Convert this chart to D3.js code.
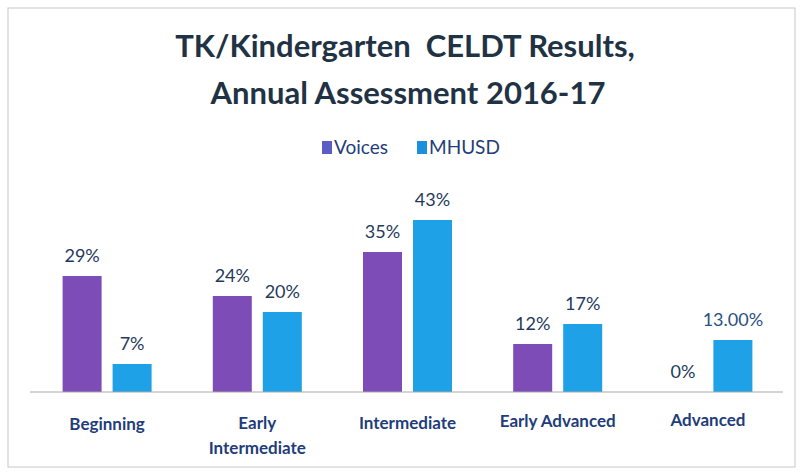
<!DOCTYPE html>
<html>
<head>
<meta charset="utf-8">
<script src="https://cdn.jsdelivr.net/npm/d3@7"></script>
<style>
  body { margin: 0; background: #fff; }
  svg { display: block; font-family: Lato, "Open Sans", sans-serif; }
</style>
</head>
<body>
<svg id="chart"></svg>
<script>
const categories = ["Beginning", "Early Intermediate", "Intermediate", "Early Advanced", "Advanced"];
const categoryLines = [["Beginning"], ["Early", "Intermediate"], ["Intermediate"], ["Early Advanced"], ["Advanced"]];
const series = ["Voices", "MHUSD"];
const voices = [29, 24, 35, 12, 0];
const mhusd = [7, 20, 43, 17, 13];
const voicesLabels = ["29%", "24%", "35%", "12%", "0%"];
const mhusdLabels = ["7%", "20%", "43%", "17%", "13.00%"];

const width = 801, height = 474;
const colors = { Voices: "#7d4cb6", MHUSD: "#1ea1e6" };
const textColor = "#1f3a5c";

const svg = d3.select("#chart").attr("width", width).attr("height", height);

// scanned page frame
svg.append("rect")
    .attr("x", 8).attr("y", 8).attr("width", 787).attr("height", 459)
    .attr("fill", "none").attr("stroke", "#c8c8c8").attr("stroke-width", 1);

// title
const title = svg.append("text")
    .attr("text-anchor", "middle")
    .style("font-size", "31px").style("font-weight", "bold")
    .attr("fill", "#1f3345");
title.append("tspan").attr("x", 405).attr("y", 57).text("TK/Kindergarten\u00a0 CELDT Results,");
title.append("tspan").attr("x", 408).attr("y", 104).text("Annual Assessment 2016-17");

// legend
const legend = svg.append("g").attr("transform", "translate(322,148)");
const legendX = [0, 95];
series.forEach((s, i) => {
    const g = legend.append("g").attr("transform", `translate(${legendX[i]},0)`);
    g.append("rect").attr("x", 0).attr("y", -7).attr("width", 10).attr("height", 13)
        .attr("fill", i === 0 ? "#5b5cc4" : "#1d8fdf");
    g.append("text").attr("x", 12).attr("y", 6)
        .style("font-size", "19px").attr("fill", "#1f3d7a").text(s);
});

const data = categories.map((c, i) => ({
    category: c,
    values: [
        { key: "Voices", value: voices[i], label: voicesLabels[i] },
        { key: "MHUSD", value: mhusd[i], label: mhusdLabels[i] }
    ]
}));

const x0 = d3.scaleBand().domain(categories).range([32, 783]).padding(0);
const c = x0.bandwidth() / 2;
const x1 = d3.scaleBand().domain(series).range([c - 44.5, c + 44.5]).paddingInner(0.22).paddingOuter(0);
const y = d3.scaleLinear().domain([0, 50]).range([392, 192]);

const groups = svg.selectAll(".group")
    .data(data)
    .enter().append("g")
    .attr("class", "group")
    .attr("transform", d => `translate(${x0(d.category)},0)`);

groups.selectAll("rect")
    .data(d => d.values.filter(v => v.value > 0))
    .enter().append("rect")
    .attr("x", d => x1(d.key))
    .attr("y", d => y(d.value))
    .attr("width", x1.bandwidth())
    .attr("height", d => y(0) - y(d.value))
    .attr("fill", d => colors[d.key]);

groups.selectAll(".lbl")
    .data(d => d.values)
    .enter().append("text")
    .attr("class", "lbl")
    .attr("x", d => x1(d.key) + x1.bandwidth() / 2)
    .attr("y", d => y(d.value) - 14)
    .attr("text-anchor", "middle")
    .style("font-size", "18px")
    .attr("fill", d => d.label === "13.00%" ? "#2b4f80" : textColor)
    .text(d => d.label);

// baseline
svg.append("line")
    .attr("x1", 30).attr("x2", 783)
    .attr("y1", y(0)).attr("y2", y(0))
    .attr("stroke", "#a8a8a8").attr("stroke-width", 1);

// category labels
const labelY = [430, 429, 429, 427, 426];
categories.forEach((cat, i) => {
    const t = svg.append("text")
        .attr("text-anchor", "middle")
        .style("font-size", "17px").style("font-weight", "bold")
        .attr("fill", "#1f3d7a");
    categoryLines[i].forEach((line, j) => {
        t.append("tspan")
            .attr("x", x0(cat) + c)
            .attr("y", labelY[i] + j * 25)
            .text(line);
    });
});
</script>
</body>
</html>
